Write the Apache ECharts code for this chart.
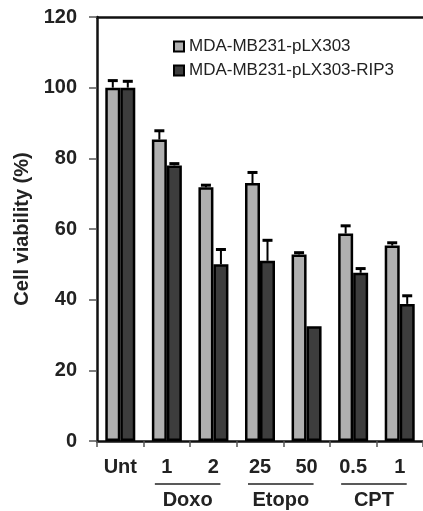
<!DOCTYPE html>
<html>
<head>
<meta charset="utf-8">
<script src="https://cdn.jsdelivr.net/npm/echarts@6/dist/echarts.min.js"></script>
<style>
  html, body { margin: 0; padding: 0; background: #fff; }
  #chart { width: 423px; height: 511px; }
</style>
</head>
<body>
<div id="chart"></div>
<script>
// categories along the x axis (doses)
const categories = ['Unt', '1', '2', '25', '50', '0.5', '1']
// drug groups, by category index
const groupNames = ['Doxo', 'Etopo', 'CPT']
const groupFrom = [1, 3, 5]
const groupTo = [2, 4, 6]

const seriesNames = ['MDA-MB231-pLX303', 'MDA-MB231-pLX303-RIP3']
const controlValues = [100, 85.3, 71.8, 73, 52.8, 58.7, 55.3]
const controlErr = [2, 2.5, 0.6, 3, 0.5, 2.2, 0.8]
const rip3Values = [100, 78, 50, 51, 32.5, 47.6, 38.8]
const rip3Err = [1.8, 0.5, 4.2, 5.8, 0, 1.2, 2.3]

const yTicks = [0, 20, 40, 60, 80, 100, 120]

const font = "'Liberation Sans', Arial, sans-serif"
const barWidth = 15

const chart = echarts.init(document.getElementById('chart'))

// upward error bar with cap, shifted to sit on its bar
function errorItem(offset) {
  return function (params, api) {
    const x = api.value(0)
    const v = api.value(1)
    const e = api.value(2)
    if (!e) return null
    const base = api.coord([x, v])
    const top = api.coord([x, v + e])
    const cx = base[0] + offset
    return {
      type: 'group',
      children: [
        { type: 'line', shape: { x1: cx, y1: base[1], x2: cx, y2: top[1] }, style: { stroke: '#000', lineWidth: 2 } },
        { type: 'line', shape: { x1: cx - 5, y1: top[1], x2: cx + 5, y2: top[1] }, style: { stroke: '#000', lineWidth: 3 } }
      ]
    }
  }
}

const option = {
  backgroundColor: '#ffffff',
  animation: false,
  grid: { left: 97, right: -8, top: 17, bottom: 70 },
  legend: {
    orient: 'vertical',
    left: 168,
    top: 33,
    itemWidth: 10,
    itemHeight: 10,
    itemGap: 7,
    icon: 'rect',
    data: seriesNames,
    itemStyle: { borderColor: '#000', borderWidth: 2 },
    textStyle: { fontFamily: font, fontSize: 17, color: '#222' }
  },
  xAxis: [
    {
      type: 'category',
      data: categories,
      axisLine: { lineStyle: { color: '#111', width: 2.5 } },
      axisTick: { show: true, length: 6, lineStyle: { color: '#555', width: 1.5 } },
      axisLabel: { interval: 0, margin: 16, fontFamily: font, fontSize: 20, fontWeight: 'bold', color: '#222' }
    },
    {
      type: 'category',
      position: 'top',
      data: categories,
      axisLine: { lineStyle: { color: '#111', width: 2.5 } },
      axisTick: { show: false },
      axisLabel: { show: false }
    }
  ],
  yAxis: {
    type: 'value',
    min: yTicks[0],
    max: yTicks[yTicks.length - 1],
    interval: 20,
    name: 'Cell viability (%)',
    nameLocation: 'middle',
    nameGap: 58,
    nameTextStyle: { fontFamily: font, fontSize: 20, fontWeight: 'bold', color: '#222' },
    splitLine: { show: false },
    axisLine: { show: true, lineStyle: { color: '#111', width: 2.5 } },
    axisTick: { show: true, length: 8, lineStyle: { color: '#555', width: 1.5 } },
    axisLabel: { margin: 20, fontFamily: font, fontSize: 20, fontWeight: 'bold', color: '#222' }
  },
  series: [
    {
      name: seriesNames[0],
      type: 'bar',
      barWidth: barWidth,
      barGap: '0%',
      data: controlValues,
      itemStyle: { color: '#b0b0b0', borderColor: '#000', borderWidth: 2.5 }
    },
    {
      name: seriesNames[1],
      type: 'bar',
      barWidth: barWidth,
      barGap: '0%',
      data: rip3Values,
      itemStyle: { color: '#3d3d3d', borderColor: '#000', borderWidth: 2.5 }
    },
    {
      type: 'custom',
      z: 3,
      renderItem: errorItem(-barWidth / 2),
      data: categories.map((c, i) => [i, controlValues[i], controlErr[i]])
    },
    {
      type: 'custom',
      z: 3,
      renderItem: errorItem(barWidth / 2),
      data: categories.map((c, i) => [i, rip3Values[i], rip3Err[i]])
    }
  ]
}

chart.setOption(option, true)

// group labels under the dose labels, placed from the axis scale
const graphics = []
groupNames.forEach((name, g) => {
  const x1 = chart.convertToPixel({ xAxisIndex: 0 }, groupFrom[g]) - 12
  const x2 = chart.convertToPixel({ xAxisIndex: 0 }, groupTo[g]) + 7
  const y0 = chart.convertToPixel({ yAxisIndex: 0 }, 0)
  graphics.push({
    type: 'line',
    shape: { x1: x1, y1: y0 + 43, x2: x2, y2: y0 + 43 },
    style: { stroke: '#222', lineWidth: 1.5 }
  })
  graphics.push({
    type: 'text',
    x: (x1 + x2) / 2,
    y: y0 + 59,
    style: {
      text: name,
      font: 'bold 20px ' + font,
      fill: '#222',
      align: 'center',
      verticalAlign: 'middle'
    }
  })
})
chart.setOption({ graphic: graphics })
</script>
</body>
</html>
